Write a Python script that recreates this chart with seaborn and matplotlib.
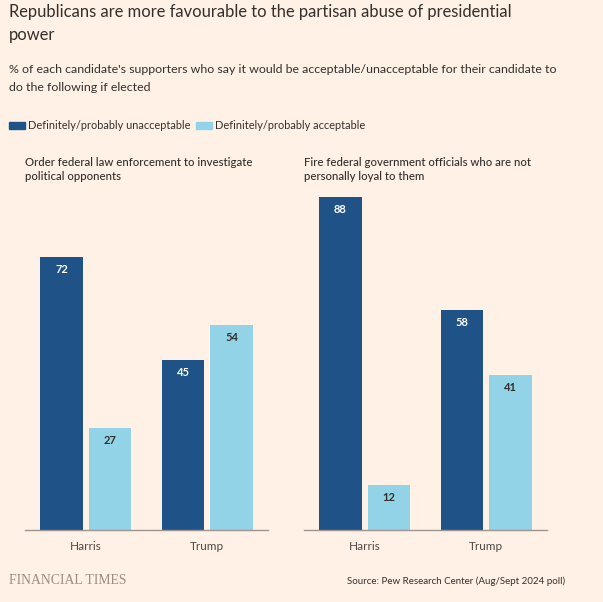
import pandas as pd
import matplotlib.pyplot as plt
import seaborn as sns
from matplotlib.patches import Rectangle

candidates = ['Harris', 'Trump']
series_names = ['Definitely/probably unacceptable', 'Definitely/probably acceptable']
investigate_unacceptable = [72, 45]
investigate_acceptable = [27, 54]
fire_unacceptable = [88, 58]
fire_acceptable = [12, 41]
panel_titles = ['Order federal law enforcement to investigate\npolitical opponents',
                'Fire federal government officials who are not\npersonally loyal to them']

bg = '#FFF1E5'
dark = '#1F5388'
light = '#92D3E8'
text_col = '#33302E'
grey = '#4F4A47'

sns.set_style('white')
plt.rcParams['font.family'] = ['Lato', 'DejaVu Sans']


def make_df(unacc, acc):
    rows = []
    for i, c in enumerate(candidates):
        rows.append({'candidate': c, 'answer': series_names[0], 'value': unacc[i]})
        rows.append({'candidate': c, 'answer': series_names[1], 'value': acc[i]})
    return pd.DataFrame(rows)


panels = [make_df(investigate_unacceptable, investigate_acceptable),
          make_df(fire_unacceptable, fire_acceptable)]

fig = plt.figure(figsize=(6.03, 6.02), dpi=100, facecolor=bg)
ax_left = [25 / 603, 304 / 603]
for k, df in enumerate(panels):
    ax = fig.add_axes([ax_left[k], 72 / 602, 243 / 603, 341 / 602])
    ax.set_facecolor(bg)
    sns.barplot(data=df, x='candidate', y='value', hue='answer', order=candidates,
                hue_order=series_names, palette=[dark, light], gap=0.125,
                saturation=1, legend=False, linewidth=0, ax=ax)
    ax.set_xlim(-0.5, 1.5)
    ax.set_ylim(0, 90)
    for cont, col in zip(ax.containers, ['white', text_col]):
        ax.bar_label(cont, padding=-13, color=col, fontsize=8, fontweight='bold')
    for s in ['top', 'right', 'left']:
        ax.spines[s].set_visible(False)
    ax.spines['bottom'].set_color('#9E9590')
    ax.spines['bottom'].set_linewidth(1)
    ax.set_yticks([])
    ax.set_xlabel('')
    ax.set_ylabel('')
    ax.tick_params(axis='x', length=5, color='#9E9590', labelcolor=grey,
                   labelsize=8.5, pad=3)
    fig.text(ax_left[k], 1 - 157 / 602, panel_titles[k], fontsize=8.2,
             color=text_col, fontweight='medium', va='top', linespacing=1.3)

fig.text(9 / 603, 1 - 4 / 602,
         'Republicans are more favourable to the partisan abuse of presidential\npower',
         fontsize=11.9, color=text_col, va='top', linespacing=1.55)
fig.text(9 / 603, 1 - 64 / 602,
         "% of each candidate's supporters who say it would be acceptable/unacceptable for their candidate to\ndo the following if elected",
         fontsize=8.9, color=text_col, va='top', linespacing=1.75)

# legend
for i, (name, col) in enumerate(zip(series_names, [dark, light])):
    x0 = [9, 196][i]
    fig.patches.append(Rectangle((x0 / 603, 1 - 129 / 602), 16 / 603, 7 / 602,
                                 transform=fig.transFigure, color=col))
    fig.text((x0 + 19) / 603, 1 - 125.5 / 602, name, fontsize=7.9,
             color=text_col, va='center')

fig.text(9 / 603, 1 - 581 / 602, 'FINANCIAL TIMES', family='Liberation Serif',
         fontsize=9.9, color='#9A8E85', va='center')
fig.text(565 / 603, 1 - 581 / 602, 'Source: Pew Research Center (Aug/Sept 2024 poll)',
         fontsize=7.0, color=text_col, va='center', ha='right')

fig.savefig('out.png', dpi=100, facecolor=bg)
